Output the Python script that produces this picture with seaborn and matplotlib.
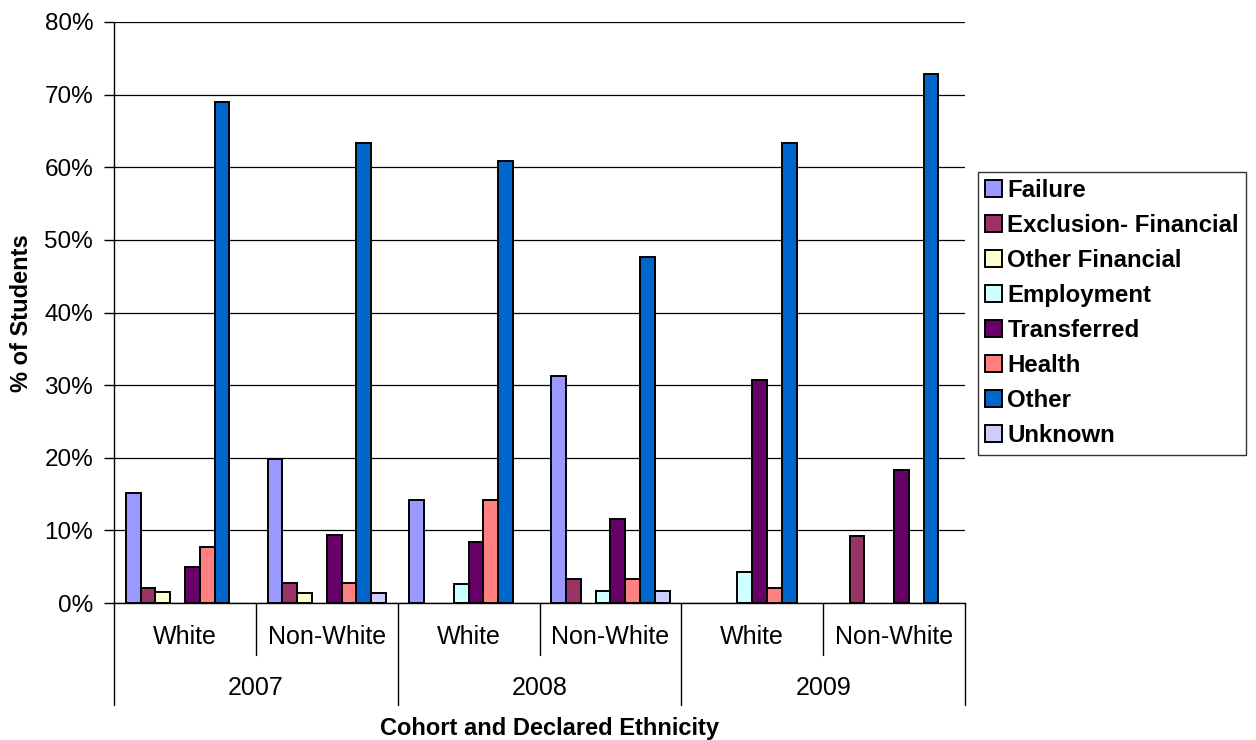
import numpy as np
import pandas as pd
import matplotlib
matplotlib.use("Agg")
import matplotlib.pyplot as plt
import matplotlib.transforms as mtransforms
from matplotlib.ticker import PercentFormatter, MultipleLocator
import seaborn as sns

# ---- data -------------------------------------------------------------
years = ["2007", "2008", "2009"]
ethnicities = ["White", "Non-White"]
reasons = ["Failure", "Exclusion- Financial", "Other Financial", "Employment",
           "Transferred", "Health", "Other", "Unknown"]
colors = ["#9999FF", "#993366", "#FFFFCC", "#CCFFFF",
          "#660066", "#FF8080", "#0066CC", "#CCCCFF"]

# % of students per reason; one list per cohort/ethnicity group (NaN = no bar)
nan = np.nan
white_2007 = [15.2, 2.1, 1.5, nan, 4.9, 7.7, 69.0, nan]
nonwhite_2007 = [19.8, 2.7, 1.4, nan, 9.3, 2.7, 63.3, 1.4]
white_2008 = [14.2, nan, nan, 2.6, 8.4, 14.2, 60.9, nan]
nonwhite_2008 = [31.3, 3.3, nan, 1.7, 11.5, 3.3, 47.6, 1.7]
white_2009 = [nan, nan, nan, 4.2, 30.7, 2.1, 63.4, nan]
nonwhite_2009 = [nan, 9.2, nan, nan, 18.3, nan, 72.8, nan]

group_values = [white_2007, nonwhite_2007, white_2008,
                nonwhite_2008, white_2009, nonwhite_2009]
group_keys = [f"{y} {e}" for y in years for e in ethnicities]

rows = []
for key, vals in zip(group_keys, group_values):
    for reason, v in zip(reasons, vals):
        if not np.isnan(v):
            rows.append({"group": key, "reason": reason, "pct": v})
df = pd.DataFrame(rows)

# ---- styling ----------------------------------------------------------
sns.set_theme(style="white")
plt.rcParams["font.family"] = ["Liberation Sans", "DejaVu Sans"]
plt.rcParams["text.color"] = "black"
plt.rcParams["axes.labelcolor"] = "black"
plt.rcParams["xtick.color"] = "black"
plt.rcParams["ytick.color"] = "black"

W, H = 1256, 740
fig = plt.figure(figsize=(W / 100, H / 100), dpi=100)
fig.patch.set_facecolor("white")
left, right, top, bottom = 114, 965, 22, 603
ax = fig.add_axes([left / W, 1 - bottom / H, (right - left) / W, (bottom - top) / H])

sns.barplot(data=df, x="group", y="pct", hue="reason",
            order=group_keys, hue_order=reasons, palette=colors,
            width=0.835, saturation=1, errorbar=None,
            edgecolor="black", linewidth=1.4, ax=ax)

ax.set_ylim(0, 80)
ax.set_xlim(-0.5, len(group_keys) - 0.5)
ax.yaxis.set_major_locator(MultipleLocator(10))
ax.yaxis.set_major_formatter(PercentFormatter(decimals=0))
ax.yaxis.grid(True, color="black", linewidth=0.9)
ax.set_axisbelow(True)
for s in ["top", "right", "left"]:
    ax.spines[s].set_visible(False)
ax.spines["bottom"].set_color("black")
ax.spines["bottom"].set_linewidth(1.0)

ax.tick_params(axis="y", direction="out", length=7, width=1, color="black",
               labelsize=17.5, pad=8, left=True, labelcolor="black")
ax.tick_params(axis="x", length=0, labelbottom=False)
ax.set_xlabel("")
ax.set_ylabel("")

# ---- two-level category axis -------------------------------------------
axh = bottom - top
trans = mtransforms.blended_transform_factory(ax.transData, ax.transAxes)
y_sub = -(637 - bottom) / axh
y_year = -(688 - bottom) / axh
y_short = -(655 - bottom) / axh
y_long = -(705 - bottom) / axh

for i, key in enumerate(group_keys):
    ax.text(i, y_sub, key.split(" ")[1], transform=trans, ha="center",
            va="center", fontsize=18, color="black")
for j, yr in enumerate(years):
    ax.text(2 * j + 0.5, y_year, yr, transform=trans, ha="center",
            va="center", fontsize=18, color="black")
for k in range(len(group_keys) + 1):
    xpos = k - 0.5
    ybot = y_long if k % 2 == 0 else y_short
    top_y = 1.0 if k == 0 else 0.0
    ax.plot([xpos, xpos], [ybot, top_y], transform=trans, color="black",
            linewidth=1.0, clip_on=False)

fig.text(549 / W, 1 - 728 / H, "Cohort and Declared Ethnicity",
         ha="center", va="center", fontsize=17, fontweight="bold", color="black")
fig.text(22 / W, 1 - 313 / H, "% of Students", rotation=90,
         ha="center", va="center", fontsize=17, fontweight="bold", color="black")

# ---- legend ---------------------------------------------------------------
handles, labels = ax.get_legend_handles_labels()
if ax.legend_:
    ax.legend_.remove()
leg = ax.legend(handles, labels, loc="upper left",
                bbox_to_anchor=(978 / W, 1 - 172 / H),
                bbox_transform=fig.transFigure,
                frameon=True, fancybox=False, edgecolor="black",
                prop={"weight": "bold", "size": 17.3},
                handlelength=0.7, handleheight=0.7, handletextpad=0.22,
                labelspacing=0.5, borderpad=0.3, borderaxespad=0)
leg.get_frame().set_linewidth(1.0)
for t in leg.get_texts():
    t.set_color("black")
for h in leg.legend_handles:
    h.set_edgecolor("black")
    h.set_linewidth(1.4)

fig.savefig("out.png", dpi=100, facecolor="white")
